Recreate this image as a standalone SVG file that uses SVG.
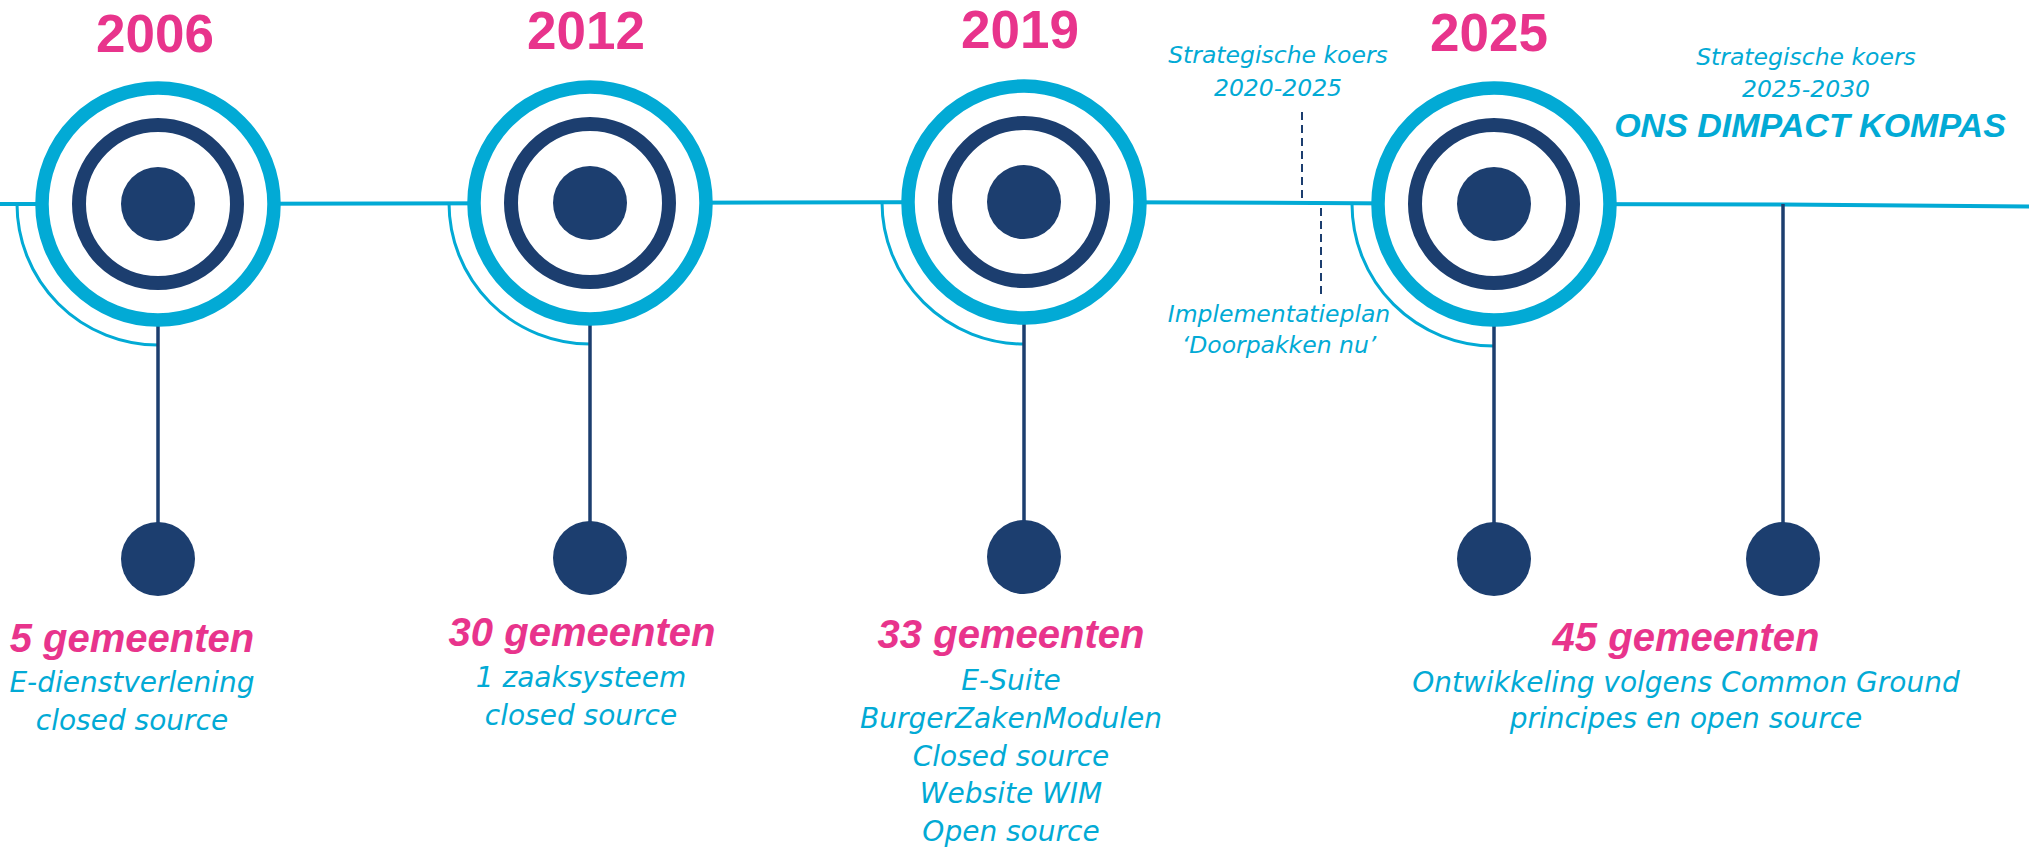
<svg xmlns="http://www.w3.org/2000/svg" width="2029" height="848" viewBox="0 0 2029 848">
<style>
.ring{fill:#fff;stroke:#02AAD5;stroke-width:13.5}
.inner{fill:none;stroke:#1C3E6F;stroke-width:14}
.dot{fill:#1C3E6F}
.tl{fill:none;stroke:#02AAD5;stroke-width:4}
.arc{fill:none;stroke:#02AAD5;stroke-width:3}
.stem{fill:none;stroke:#1C3E6F;stroke-width:3.5}
.dash{fill:none;stroke:#1C3E6F;stroke-width:2;stroke-dasharray:8 5}
.year{font-family:"Liberation Sans",Arial,sans-serif;font-weight:bold;font-size:53px;fill:#E8348C;text-anchor:middle}
.count{font-family:"Liberation Sans",Arial,sans-serif;font-weight:bold;font-style:italic;font-size:40px;fill:#E8348C;text-anchor:middle}
.desc{font-family:"DejaVu Sans",sans-serif;font-style:italic;font-size:28px;fill:#02AAD5;text-anchor:middle}
.note{font-family:"DejaVu Sans",sans-serif;font-style:italic;font-size:23.5px;fill:#02AAD5;text-anchor:middle}
.title{font-family:"Liberation Sans",Arial,sans-serif;font-weight:bold;font-style:italic;font-size:34px;fill:#02AAD5;text-anchor:middle}
</style>
<g id="connectors">
<polyline class="tl" points="0,204 158,204 590,203 1024,202 1200,202.5 1494,204 1783,204.5 2029,206.5"/>
<path class="arc" d="M17,204 A141,141 0 0 0 158,345"/>
<path class="arc" d="M449,203 A141,141 0 0 0 590,344"/>
<path class="arc" d="M882,202 A142,142 0 0 0 1024,344"/>
<path class="arc" d="M1352,204 A142,142 0 0 0 1494,346"/>
<line class="stem" x1="158" y1="320" x2="158" y2="530"/>
<line class="stem" x1="590" y1="320" x2="590" y2="530"/>
<line class="stem" x1="1024" y1="320" x2="1024" y2="530"/>
<line class="stem" x1="1494" y1="320" x2="1494" y2="530"/>
<line class="stem" x1="1783" y1="204" x2="1783" y2="530"/>
<line class="dash" x1="1302" y1="112" x2="1302" y2="201"/>
<line class="dash" x1="1321" y1="208" x2="1321" y2="298"/>
</g>
<g id="node-2006">
<text class="year" x="155" y="52">2006</text>
<circle class="ring" cx="158" cy="204" r="116"/>
<circle class="inner" cx="158" cy="204" r="79"/>
<circle class="dot" cx="158" cy="204" r="37"/>
</g>
<g id="node-2012">
<text class="year" x="586" y="49">2012</text>
<circle class="ring" cx="590" cy="203" r="116"/>
<circle class="inner" cx="590" cy="203" r="79"/>
<circle class="dot" cx="590" cy="203" r="37"/>
</g>
<g id="node-2019">
<text class="year" x="1020" y="48">2019</text>
<circle class="ring" cx="1024" cy="202" r="116"/>
<circle class="inner" cx="1024" cy="202" r="79"/>
<circle class="dot" cx="1024" cy="202" r="37"/>
</g>
<g id="node-2025">
<text class="year" x="1489" y="51">2025</text>
<circle class="ring" cx="1494" cy="204" r="116"/>
<circle class="inner" cx="1494" cy="204" r="79"/>
<circle class="dot" cx="1494" cy="204" r="37"/>
</g>
<g id="note-koers-2020">
<text class="note" x="1278" y="63">Strategische koers</text>
<text class="note" x="1278" y="96">2020-2025</text>
</g>
<g id="note-implementatie">
<text class="note" x="1279" y="322">Implementatieplan</text>
<text class="note" x="1279" y="353">‘Doorpakken nu’</text>
</g>
<g id="note-kompas">
<text class="note" x="1806" y="65">Strategische koers</text>
<text class="note" x="1806" y="97">2025-2030</text>
<text class="title" x="1810" y="137">ONS DIMPACT KOMPAS</text>
</g>
<g id="info-2006">
<circle class="dot" cx="158" cy="559" r="37"/>
<text class="count" x="132" y="652">5 gemeenten</text>
<text class="desc" x="132" y="692">E-dienstverlening</text>
<text class="desc" x="132" y="730">closed source</text>
</g>
<g id="info-2012">
<circle class="dot" cx="590" cy="558" r="37"/>
<text class="count" x="582" y="646">30 gemeenten</text>
<text class="desc" x="581" y="687">1 zaaksysteem</text>
<text class="desc" x="581" y="725">closed source</text>
</g>
<g id="info-2019">
<circle class="dot" cx="1024" cy="557" r="37"/>
<text class="count" x="1011" y="648">33 gemeenten</text>
<text class="desc" x="1011" y="690">E-Suite</text>
<text class="desc" x="1011" y="728">BurgerZakenModulen</text>
<text class="desc" x="1011" y="766">Closed source</text>
<text class="desc" x="1011" y="803">Website WIM</text>
<text class="desc" x="1011" y="841">Open source</text>
</g>
<g id="info-2025">
<circle class="dot" cx="1494" cy="559" r="37"/>
<text class="count" x="1686" y="651">45 gemeenten</text>
<text class="desc" x="1686" y="692">Ontwikkeling volgens Common Ground</text>
<text class="desc" x="1686" y="728">principes en open source</text>
</g>
<g id="info-2030">
<circle class="dot" cx="1783" cy="559" r="37"/>
</g>
</svg>
